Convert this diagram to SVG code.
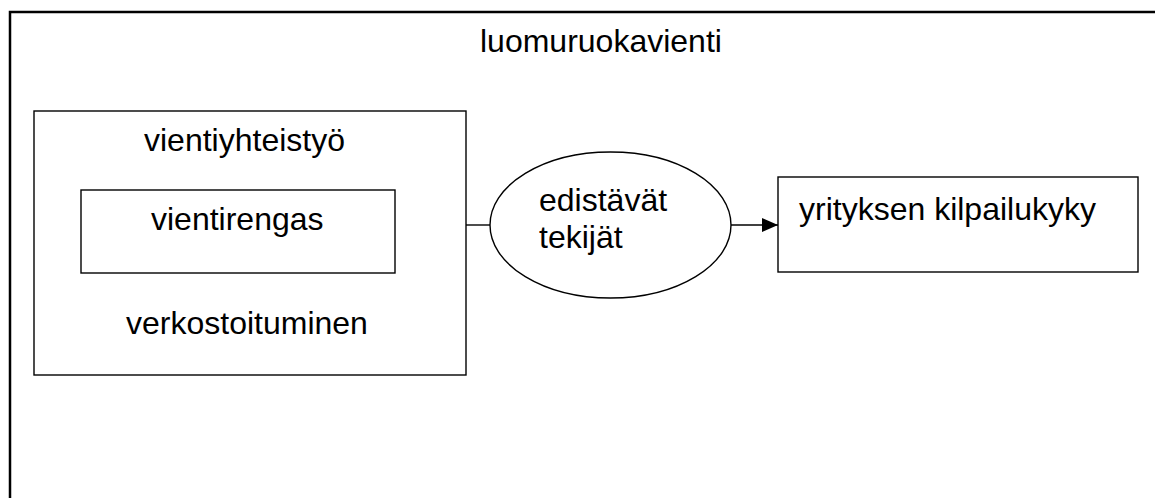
<svg xmlns="http://www.w3.org/2000/svg" width="1155" height="498" viewBox="0 0 1155 498">
<style>
.t{font-family:"Liberation Sans",Arial,sans-serif;font-size:32px;fill:#000}
.b{fill:#fff;stroke:#000;stroke-width:1.4}
.c{stroke:#000;stroke-width:1.4;fill:none}
</style>
<defs>
<marker id="ah" markerWidth="16" markerHeight="14" refX="16" refY="7" orient="auto" markerUnits="userSpaceOnUse">
<path d="M0,0 L16,7 L0,14 Z" fill="#000"/>
</marker>
</defs>
<rect width="1155" height="498" fill="#fff"/>
<g id="outer">
<rect x="10" y="12" width="1170" height="520" fill="none" stroke="#000" stroke-width="2.5"/>
<text class="t" x="480" y="52">luomuruokavienti</text>
</g>
<g id="vientiyhteistyo">
<rect class="b" x="34" y="111" width="432" height="264"/>
<text class="t" x="144" y="151">vientiyhteistyö</text>
<text class="t" x="126" y="334">verkostoituminen</text>
</g>
<g id="vientirengas">
<rect class="b" x="81" y="190" width="314" height="83"/>
<text class="t" x="151" y="230">vientirengas</text>
</g>
<g id="edistavat">
<ellipse class="b" cx="610.5" cy="225" rx="120.5" ry="73"/>
<text class="t" x="539" y="211">edistävät</text>
<text class="t" x="539" y="248">tekijät</text>
</g>
<g id="kilpailukyky">
<rect class="b" x="778" y="177" width="360" height="95"/>
<text class="t" x="799" y="220">yrityksen kilpailukyky</text>
</g>
<g id="connectors">
<line class="c" x1="466" y1="225" x2="490" y2="225"/>
<line class="c" x1="731" y1="225" x2="778" y2="225" marker-end="url(#ah)"/>
</g>
</svg>
